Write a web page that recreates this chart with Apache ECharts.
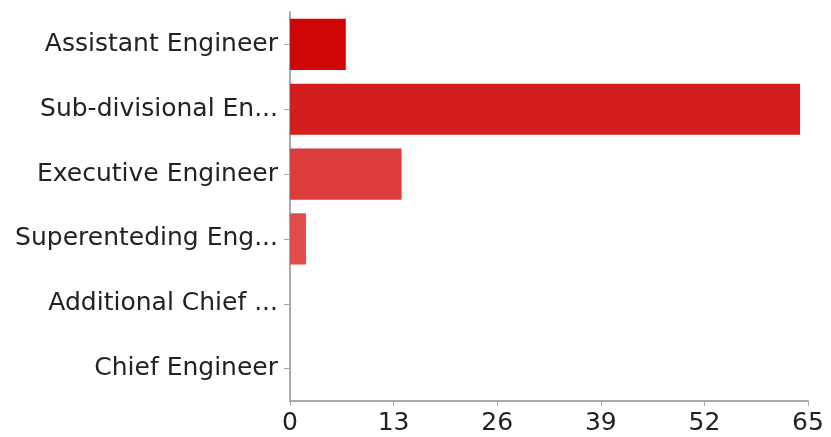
<!DOCTYPE html>
<html>
<head>
<meta charset="utf-8">
<script src="https://cdn.jsdelivr.net/npm/echarts@6/dist/echarts.min.js"></script>
<style>
  html, body { margin: 0; padding: 0; background: #ffffff; }
  #chart { width: 831px; height: 437px; }
</style>
</head>
<body>
<div id="chart"></div>
<script>
// Respondents by designation
const categories = [
  'Assistant Engineer',
  'Sub-divisional En...',
  'Executive Engineer',
  'Superenteding Eng...',
  'Additional Chief ...',
  'Chief Engineer'
];
const counts = [7, 64, 14, 2, 0, 0];
const barColors = ['#d00606', '#d41e1e', '#dc3c3c', '#e14b4b', '#e55a5a', '#e86868'];
const axisTicks = [0, 13, 26, 39, 52, 65];

const chart = echarts.init(document.getElementById('chart'), null, { renderer: 'canvas' });
const labelFont = { color: '#222222', fontSize: 25, fontFamily: 'DejaVu Sans, sans-serif' };

chart.setOption({
  animation: false,
  grid: { left: 290, right: 23, top: 12, bottom: 36, containLabel: false },
  xAxis: {
    type: 'value',
    min: axisTicks[0],
    max: axisTicks[axisTicks.length - 1],
    interval: axisTicks[1] - axisTicks[0],
    axisLine: { show: true, lineStyle: { color: '#aaaaaa', width: 2 } },
    axisTick: { show: true, length: 5, lineStyle: { color: '#aaaaaa', width: 1 } },
    splitLine: { show: false },
    axisLabel: Object.assign({ margin: 10 }, labelFont)
  },
  yAxis: {
    type: 'category',
    inverse: true,
    data: categories,
    axisLine: { show: true, lineStyle: { color: '#aaaaaa', width: 2 } },
    axisTick: { show: true, length: 6, alignWithLabel: true, lineStyle: { color: '#aaaaaa', width: 1 } },
    axisLabel: Object.assign({ margin: 12 }, labelFont)
  },
  series: [{
    type: 'bar',
    data: counts.map((v, i) => ({ value: v, itemStyle: { color: barColors[i] } })),
    barCategoryGap: '21%'
  }]
});
</script>
</body>
</html>
